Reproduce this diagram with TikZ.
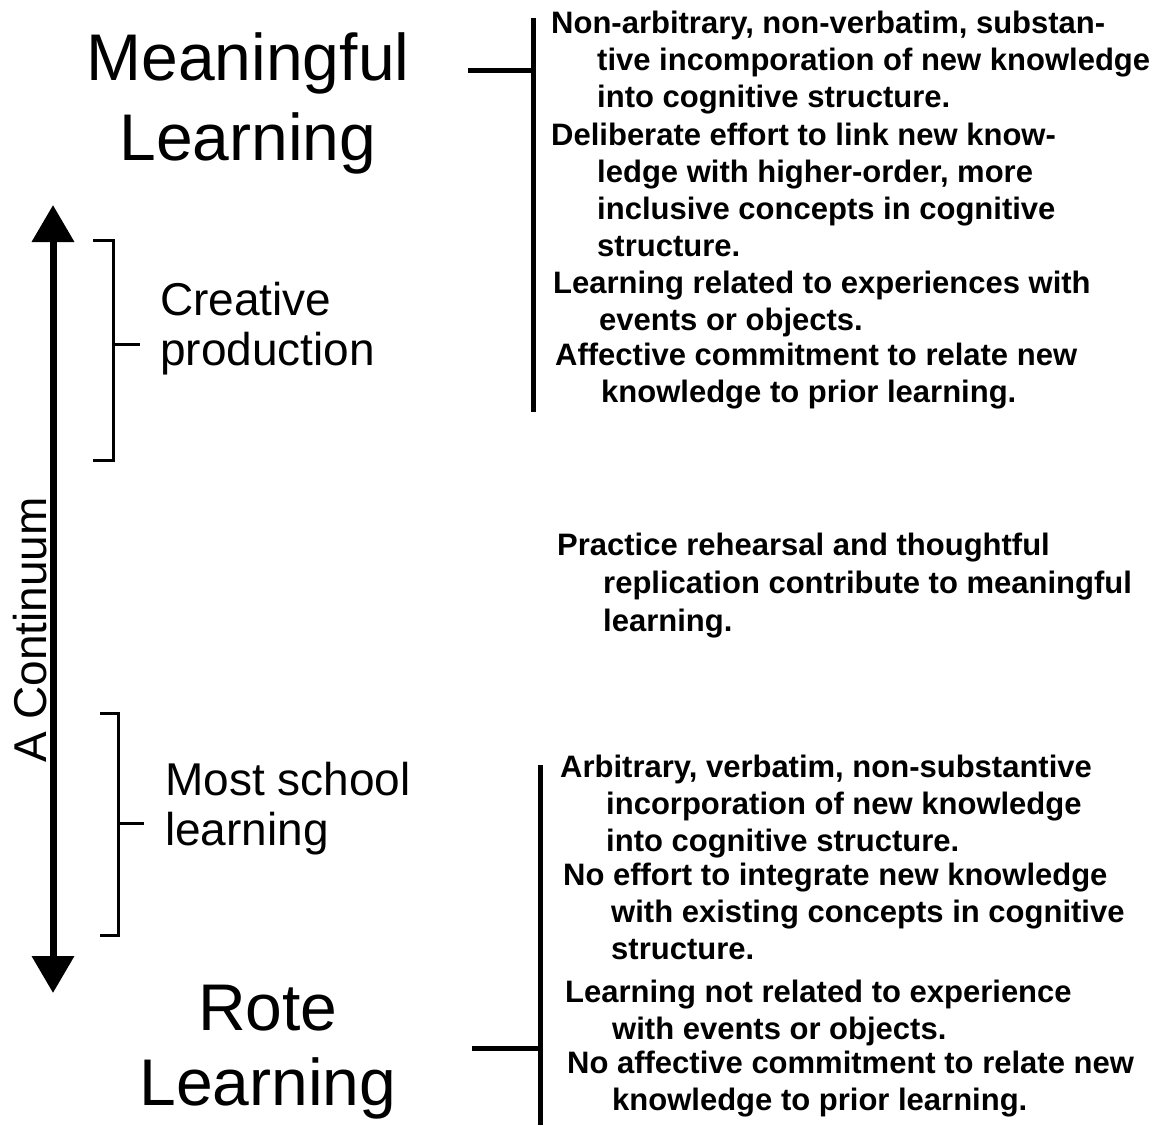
\documentclass[tikz,border=0pt]{standalone}
\usepackage{fontspec}
\setmainfont{Liberation Sans}
\usetikzlibrary{arrows.meta}

% a block of notes: first line flush, the following lines hung in
\newcommand{\hungpar}[2]{\parbox[t]{640pt}{\hangindent=#1\hangafter=1 #2}}

\tikzset{
  title/.style={inner sep=0pt, anchor=base, align=center,
    font=\fontsize{66}{78}\selectfont},
  level/.style={inner sep=0pt, anchor=base west,
    font=\fontsize{46}{50}\selectfont},
  note/.style={inner sep=0pt, anchor=base west,
    font=\bfseries\fontsize{31}{37}\selectfont},
  thinbracket/.style={line width=3pt, line cap=butt, line join=miter},
  thickbracket/.style={line width=5pt, line cap=butt},
  axis/.style={line width=7pt,
    {Triangle[length=37pt,width=41pt]}-{Triangle[length=37pt,width=41pt]}},
}

\begin{document}
\begin{tikzpicture}[x=1pt, y=-1pt]
  \useasboundingbox (0,0) rectangle (1162,1125);

  % ---- the continuum axis ----
  \coordinate (axtop) at (53,205);
  \coordinate (axbot) at (53,993);
  \draw[axis] (axbot) -- (axtop);
  \node[inner sep=0pt, rotate=90, font=\fontsize{46}{50}\selectfont]
    (continuum) at (30,630) {A Continuum};

  % ---- the two poles ----
  \node[title] (meaningful) at (248,80)
    {\parbox[t]{420pt}{\centering\baselineskip=80pt Meaningful\\Learning}};
  \node[title] (rote) at (268,1030)
    {\parbox[t]{420pt}{\centering\baselineskip=75pt Rote\\Learning}};

  % ---- intermediate levels with their brackets ----
  \node[level] (creative) at (160,315)
    {\parbox[t]{300pt}{\baselineskip=50pt Creative\\production}};
  \node[level] (school) at (165,795)
    {\parbox[t]{300pt}{\baselineskip=50pt Most school\\learning}};

  \coordinate (cbtop) at (93,240);
  \coordinate (cbbot) at (93,460);
  \coordinate (cbmid) at (140,344);
  \draw[thinbracket] (cbtop) -| (113,460) -- (cbbot);
  \draw[thinbracket] (113,344) -- (cbmid);

  \coordinate (sbtop) at (100,713);
  \coordinate (sbbot) at (100,935);
  \coordinate (sbmid) at (144,823);
  \draw[thinbracket] (sbtop) -| (118,935) -- (sbbot);
  \draw[thinbracket] (118,823) -- (sbmid);

  % ---- characteristics of meaningful learning ----
  \coordinate (mtick) at (468,70);
  \coordinate (mtop) at (533,18);
  \coordinate (mbot) at (533,412);
  \draw[thickbracket] (mtop) -- (mbot);
  \draw[thickbracket] (mtick) -- (533,70);

  \node[note] (m1) at (551,33) {\hungpar{46pt}{Non-arbitrary, non-verbatim, substan-\\
    tive incomporation of new knowledge\\into cognitive structure.}};
  \node[note] (m2) at (551,145) {\hungpar{46pt}{Deliberate effort to link new know-\\
    ledge with higher-order, more\\inclusive concepts in cognitive\\structure.}};
  \node[note] (m3) at (553,293) {\hungpar{46pt}{Learning related to experiences with\\
    events or objects.}};
  \node[note] (m4) at (555,365) {\hungpar{46pt}{Affective commitment to relate new\\
    knowledge to prior learning.}};

  % ---- the middle of the continuum ----
  \node[note] (mid) at (557,555) {\parbox[t]{640pt}{\hangindent=46pt\hangafter=1
    \baselineskip=38pt Practice rehearsal and thoughtful\\
    replication contribute to meaningful\\learning.}};

  % ---- characteristics of rote learning ----
  \coordinate (rtick) at (472,1048);
  \coordinate (rtop) at (540,765);
  \coordinate (rbot) at (540,1125);
  \draw[thickbracket] (rtop) -- (rbot);
  \draw[thickbracket] (rtick) -- (540,1048);

  \node[note] (r1) at (560,777) {\hungpar{46pt}{Arbitrary, verbatim, non-substantive\\
    incorporation of new knowledge\\into cognitive structure.}};
  \node[note] (r2) at (563,885) {\hungpar{48pt}{No effort to integrate new knowledge\\
    with existing concepts in cognitive\\structure.}};
  \node[note] (r3) at (565,1002) {\hungpar{47pt}{Learning not related to experience\\
    with events or objects.}};
  \node[note] (r4) at (567,1073) {\hungpar{45pt}{No affective commitment to relate new\\
    knowledge to prior learning.}};
\end{tikzpicture}
\end{document}
